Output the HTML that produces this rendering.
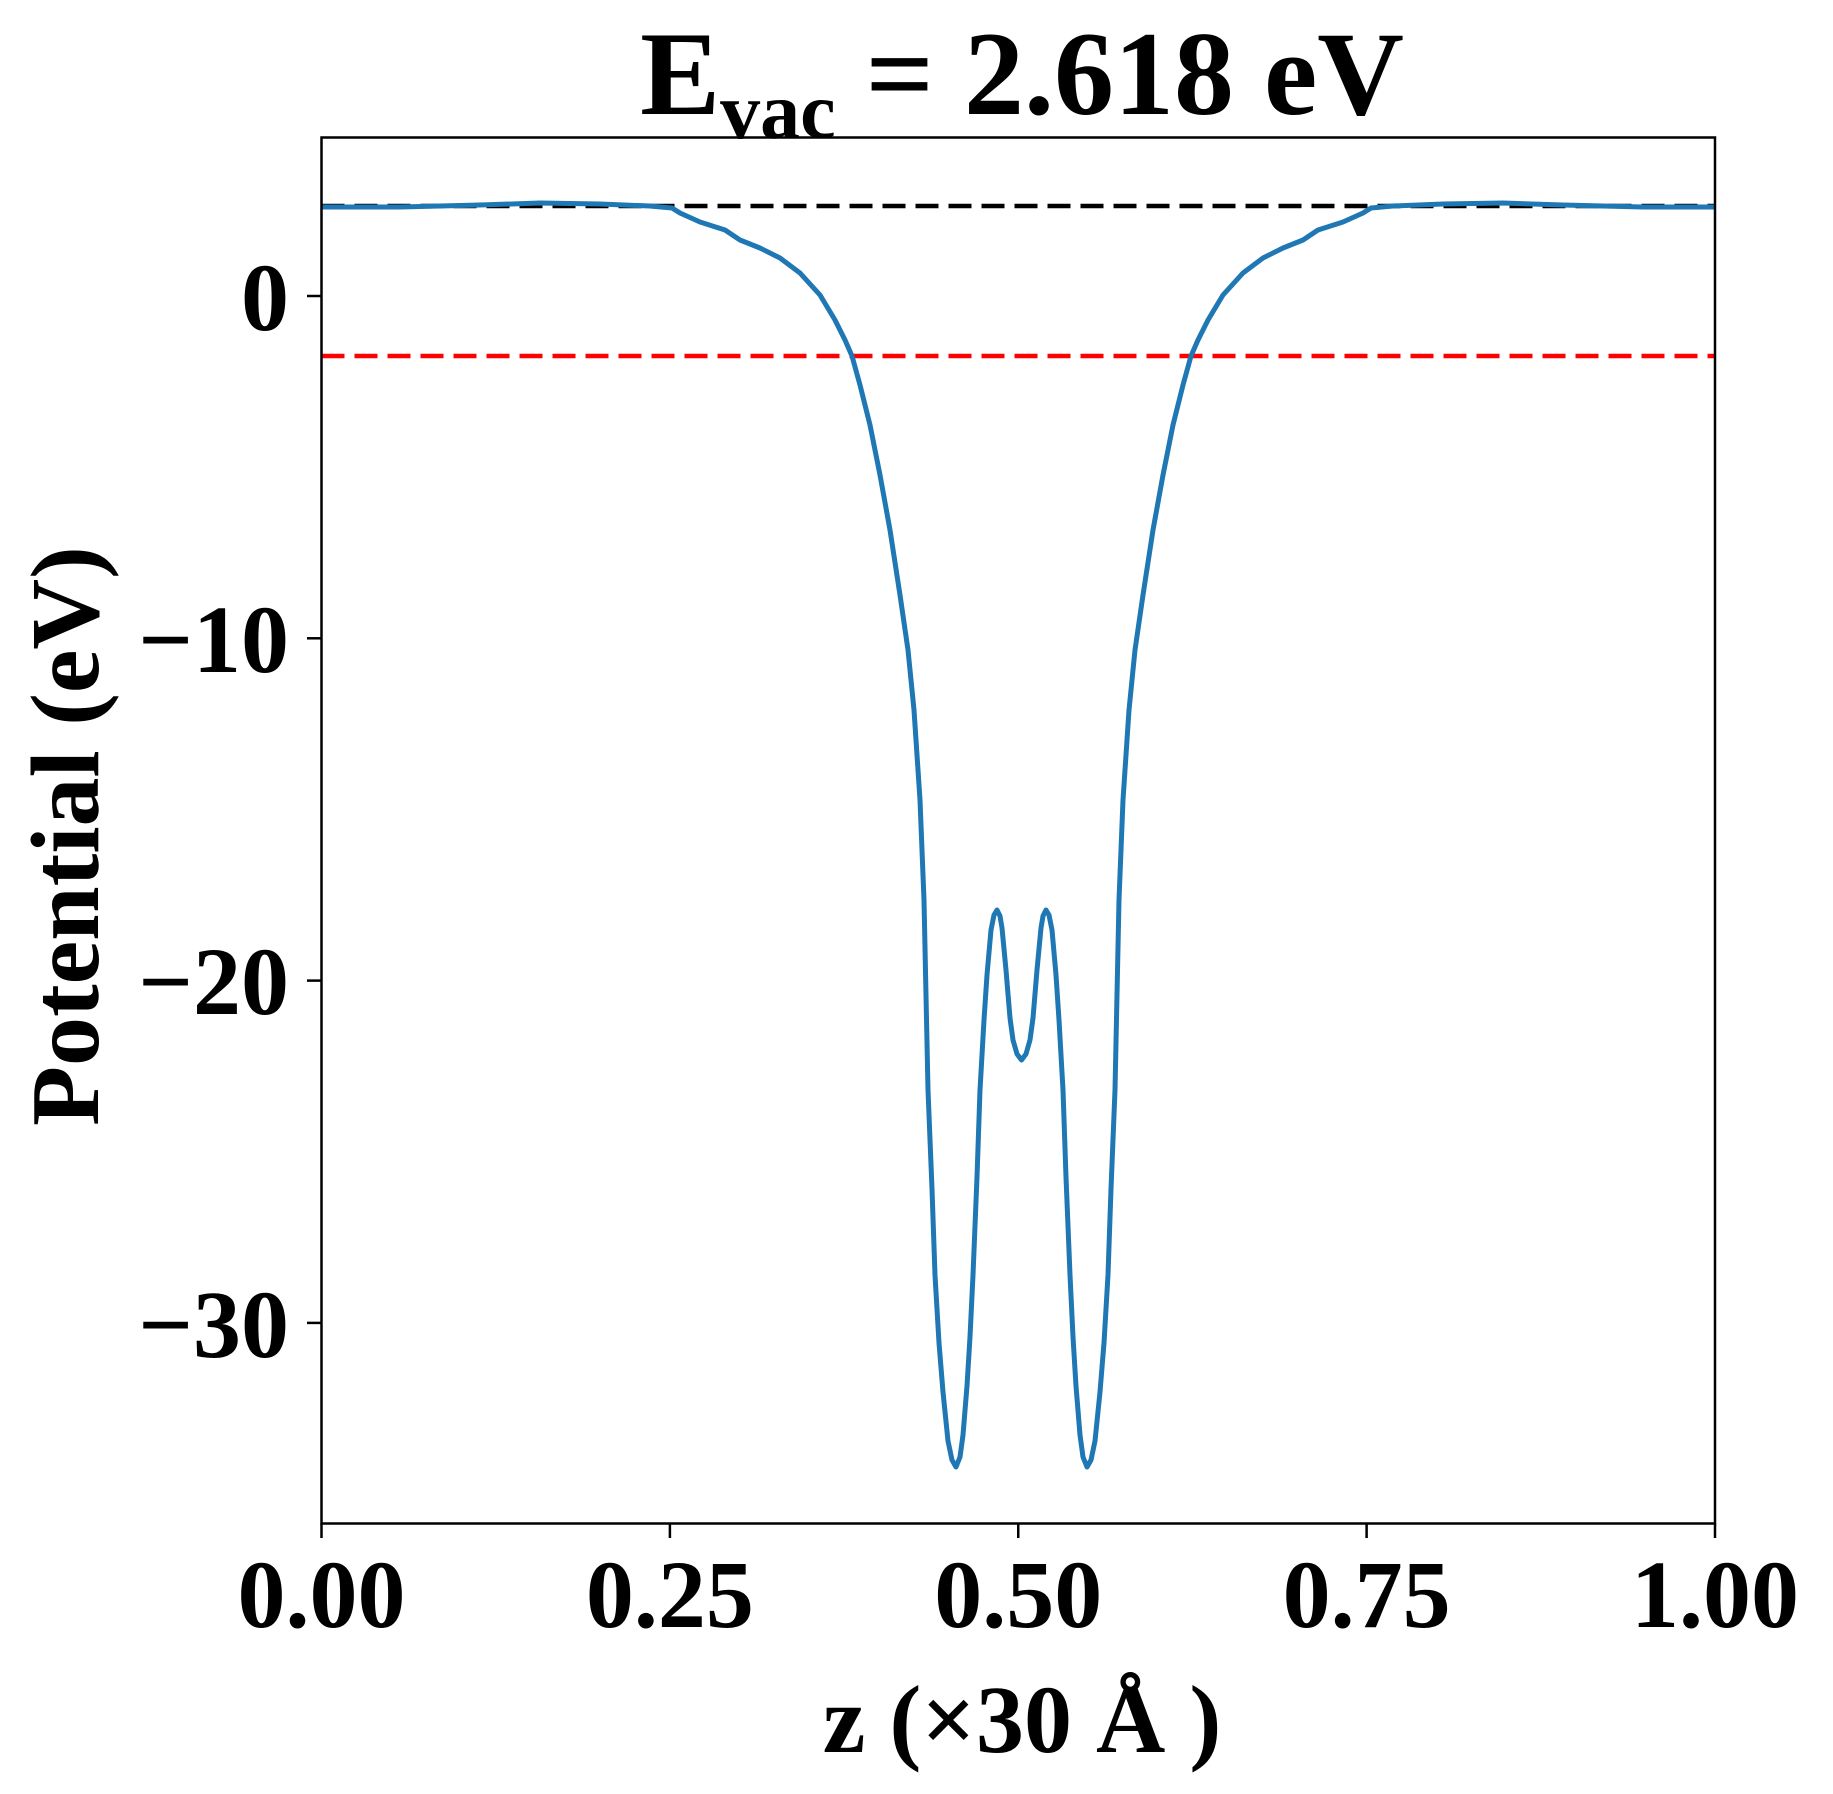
<!DOCTYPE html>
<html><head><meta charset="utf-8"><style>
html,body{margin:0;padding:0;background:#fff;}
svg{display:block;}
text{font-family:"Liberation Serif",serif;font-weight:bold;fill:#000;}
</style></head><body>
<svg id="s" width="1833" height="1794" viewBox="0 0 1833 1794" xmlns="http://www.w3.org/2000/svg">
<defs><clipPath id="c"><rect x="321.5" y="137.5" width="1393.5" height="1386"/></clipPath></defs>
<rect width="1833" height="1794" fill="#fff"/>
<g clip-path="url(#c)">
<line x1="321.5" y1="206" x2="1715" y2="206" stroke="#000" stroke-width="4.5" stroke-dasharray="23 10"/>
<line x1="321.5" y1="356" x2="1715" y2="356" stroke="#f00" stroke-width="4.5" stroke-dasharray="23 10"/>
<path id="curve" fill="none" stroke="#1f77b4" stroke-width="5" stroke-linejoin="round"/>
</g>
<rect x="321.5" y="137.5" width="1393.5" height="1386" fill="none" stroke="#000" stroke-width="2.5"/>
<g stroke="#000" stroke-width="2.5">
<line x1="307" y1="296" x2="321.5" y2="296"/>
<line x1="307" y1="638.3" x2="321.5" y2="638.3"/>
<line x1="307" y1="980.6" x2="321.5" y2="980.6"/>
<line x1="307" y1="1322.9" x2="321.5" y2="1322.9"/>
<line x1="321.5" y1="1523.5" x2="321.5" y2="1538"/>
<line x1="669.9" y1="1523.5" x2="669.9" y2="1538"/>
<line x1="1018.25" y1="1523.5" x2="1018.25" y2="1538"/>
<line x1="1366.6" y1="1523.5" x2="1366.6" y2="1538"/>
<line x1="1715" y1="1523.5" x2="1715" y2="1538"/>
</g>
<g font-size="96" text-anchor="end">
<text x="289" y="330">0</text>
<text x="289" y="672">−10</text>
<text x="289" y="1014">−20</text>
<text x="289" y="1357">−30</text>
</g>
<g font-size="96" text-anchor="middle">
<text x="321.5" y="1627">0.00</text>
<text x="669.9" y="1627">0.25</text>
<text x="1018.25" y="1627">0.50</text>
<text x="1366.6" y="1627">0.75</text>
<text x="1715" y="1627">1.00</text>
<text x="1022" y="1752">z (×30 Å )</text>
<text transform="translate(98,836) rotate(-90)" font-size="98">Potential (eV)</text>
</g>
<text x="1022" y="114" font-size="120" text-anchor="middle">E<tspan font-size="80" dy="24">vac</tspan><tspan dy="-24"> = 2.618 eV</tspan></text>
</svg>
<script>
var L=[[300,207],[400,207],[480,205],[540,203],[600,204],[650,206],[672,208],[680,213],[700,222],[725,230],[740,240],[760,248],[780,258],[800,273],[820,295],[835,320],[845,340],[852,356],[860,385],[870,425],[880,475],[890,530],[900,595],[908,650],[914,710],[920,800],[924,900],[928,1090],[932,1189],[935,1275],[939,1343],[943,1392],[948,1441],[952,1460],[956,1467],[960,1457],[963,1435],[967,1386],[970,1337],[973,1275],[977,1177],[980,1090],[984,1020],[987,975],[991,930],[994,915],[997,910],[1000,916],[1002,928],[1006,970],[1010,1018],[1013,1040],[1017,1054],[1021.5,1060]];
var pts=L.slice();
for(var i=L.length-2;i>=0;i--){pts.push([2043-L[i][0],L[i][1]]);}
var d="M"+pts.map(function(p){return p[0]+","+p[1];}).join(" L");
document.getElementById("curve").setAttribute("d",d);
</script>
</body></html>
